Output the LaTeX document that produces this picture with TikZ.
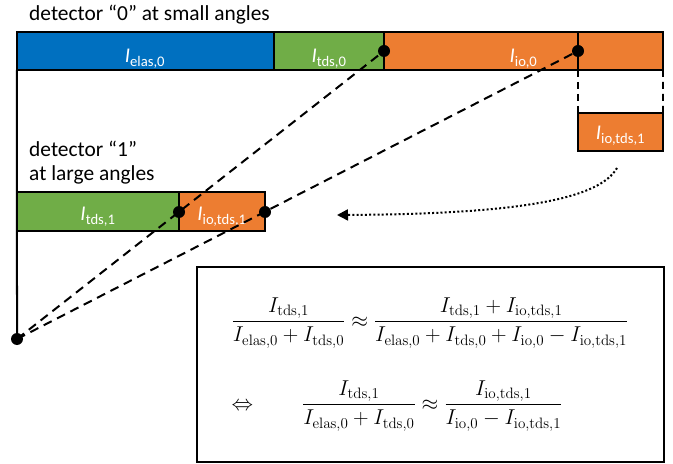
\RequirePackage{fix-cm}
\documentclass[tikz,border=0pt]{standalone}
\usepackage{amsmath}
\usepackage[no-math]{fontspec}
\setmainfont{Carlito}
\usetikzlibrary{arrows.meta}

\definecolor{barblue}{HTML}{0070C0}
\definecolor{bargreen}{HTML}{70AD47}
\definecolor{barorange}{HTML}{ED7D31}

% intensity label inside a bar: italic I with an upright subscript
\newcommand\barlab[1]{\textit{I}$_{\text{#1}}$}

\begin{document}
\begin{tikzpicture}[x=1bp, y=-1bp,
  bar/.style={draw=black, line width=2bp, inner sep=0pt, outer sep=0pt},
  lab/.style={text=white, anchor=base, inner sep=0pt, font=\fontsize{21}{24}\selectfont},
  caption/.style={anchor=base west, inner sep=0pt, font=\fontsize{21.5}{25}\selectfont, align=left},
  hit/.style={circle, fill=black, inner sep=0pt, minimum size=12bp},
  ray/.style={line width=2bp, dash pattern=on 9bp off 6bp},
  guide/.style={line width=1.6bp, dash pattern=on 7bp off 5bp},
  move/.style={line width=2bp, dash pattern=on 2bp off 2.2bp, -{Triangle[length=11bp, width=11bp]}},
  eq/.style={inner sep=0pt, font=\fontsize{21.6}{25}\selectfont}]
\useasboundingbox (0,0) rectangle (673,464);

% detector 0
\node[caption] (cap0) at (29,21) {detector “0” at small angles};
\node[bar, fill=barblue, minimum width=257bp, minimum height=38bp] (elas0) at (145.5,51) {};
\node[bar, fill=bargreen, minimum width=110bp, minimum height=38bp] (tds0) at (329,51) {};
\node[bar, fill=barorange, minimum width=279bp, minimum height=38bp] (io0) at (523.5,51) {};
\coordinate (cutT) at (578,32);
\coordinate (cutB) at (578,70);
\draw[line width=2bp] (cutT) -- (cutB);
\node[lab] (lelas0) at (145,63) {\barlab{elas,0}};
\node[lab] (ltds0) at (329,63) {\barlab{tds,0}};
\node[lab] (lio0) at (523.5,63) {\barlab{io,0}};

% part of the io signal that reaches detector 1
\node[bar, fill=barorange, minimum width=85bp, minimum height=38bp] (iotds) at (620.5,132) {};
\node[lab] (liotds) at (620.5,140) {\barlab{io,tds,1}};
\coordinate (gA) at (578,153);
\coordinate (gB) at (663,153);
\draw[guide] (cutB) -- (gA);
\draw[guide] (io0.south east) -- (gB);

% detector 1
\node[caption] (cap1) at (29,181) {detector “1”\\at large angles};
\node[bar, fill=bargreen, minimum width=162bp, minimum height=39bp] (tds1) at (98,211.5) {};
\node[bar, fill=barorange, minimum width=86bp, minimum height=39bp] (iotds1) at (222,211.5) {};
\node[lab] (ltds1) at (98,221) {\barlab{tds,1}};
\node[lab] (liotds1) at (222,221) {\barlab{io,tds,1}};

% sample and scattering rays
\draw[line width=2bp] (elas0.south west) -- (17,339);
\node[hit] (src) at (17,339) {};
\node[hit] (a0) at (384,51) {};
\node[hit] (b0) at (578,51) {};
\node[hit] (a1) at (179,212) {};
\node[hit] (b1) at (265,212) {};
\draw[ray] (src.center) -- (a0.center);
\draw[ray] (src.center) -- (b0.center);

% transfer arrow
\coordinate (mvS) at (617,168);
\coordinate (mvE) at (337,215);
\draw[move] (mvS) .. controls (600,197) and (530,214) .. (mvE);

% relation
\node[draw, line width=2bp, minimum width=467bp, minimum height=195bp, inner sep=0pt] (frame) at (430.5,364.5) {};
\node[eq] (eq1) at (430,323) {$\displaystyle \frac{I_{\mathrm{tds},1}}{I_{\mathrm{elas},0}+I_{\mathrm{tds},0}} \approx \frac{I_{\mathrm{tds},1}+I_{\mathrm{io},\mathrm{tds},1}}{I_{\mathrm{elas},0}+I_{\mathrm{tds},0}+I_{\mathrm{io},0}-I_{\mathrm{io},\mathrm{tds},1}}$};
\node[eq] (eq2) at (397,406) {$\displaystyle \Leftrightarrow \qquad \frac{I_{\mathrm{tds},1}}{I_{\mathrm{elas},0}+I_{\mathrm{tds},0}} \approx \frac{I_{\mathrm{io},\mathrm{tds},1}}{I_{\mathrm{io},0}-I_{\mathrm{io},\mathrm{tds},1}}$};
\end{tikzpicture}
\end{document}
